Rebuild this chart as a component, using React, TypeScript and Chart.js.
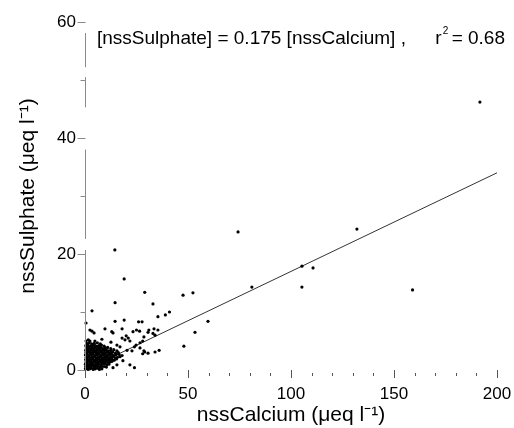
import React, { useEffect, useRef } from "react";
import { Chart, registerables } from "chart.js";

Chart.register(...registerables);

// nssCalcium (x) vs nssSulphate (y), µeq/l — scattered samples
const outlierPoints: [number, number][] = [
  [191.7, 46.2], [132, 24.3], [74.3, 23.8], [14.5, 20.7], [105.3, 17.9], [110.7, 17.6],
  [19, 15.7], [81, 14.3], [105.3, 14.3], [159, 13.8], [29, 13.4], [47.6, 12.9], [52.4, 13.3],
  [14.6, 11.6], [33, 11.4], [3.4, 10.2], [41, 10.0], [39, 9.5], [35.4, 9.2], [59.7, 8.4],
  [53.4, 6.5], [48, 4.1], [29, 3.1], [34, 3.1], [36, 3.4], [0.5, 8.1], [14.6, 8.4], [19, 8.6],
  [26, 8.3], [27.7, 8.3], [2.4, 6.9], [3.4, 6.7], [4.4, 6.4], [9.7, 7.1], [13, 6.6], [18, 7.1],
  [25, 6.9], [26.5, 6.7], [31, 6.9], [33.5, 7.1], [35.4, 6.9], [33, 6.3], [30.6, 6.5], [20, 5.9],
  [21, 5.5], [24, 4.0], [34, 6.0], [28.6, 5.7], [28, 5.0], [26.7, 4.7], [2.4, 5.0], [8.2, 5.3],
  [12.6, 4.8], [18, 5.5], [19.4, 5.2], [21.8, 5.0], [24.8, 4.3], [26.7, 3.8], [28.6, 3.3],
  [30.6, 2.9], [28, 2.8], [20.4, 3.4], [22.8, 3.3], [15.5, 4.3], [17, 4.0], [18.4, 1.6],
  [21.8, 0.9], [24, 0.4], [15.5, 0.9], [13.6, 0.4], [23.3, 6.6], [13.6, 6.4],
];

// dense cloud of low-concentration samples near the origin
const clusterPoints: [number, number][] = [
  [0.2, 0.2], [0.8, 0.3], [1.5, 0.1], [2.3, 0.2], [3.1, 0.3], [4.0, 0.1], [5.0, 0.2], [6.1, 0.3], [7.0, 0.1], [8.2, 0.2],
  [0.3, 0.6], [1.0, 0.7], [1.8, 0.5], [2.6, 0.6], [3.5, 0.7], [4.4, 0.5], [5.3, 0.6], [6.2, 0.7], [7.2, 0.5], [8.1, 0.6], [9.3, 0.6], [10.4, 0.5],
  [0.2, 1.0], [1.1, 1.1], [2.0, 0.9], [2.9, 1.0], [3.8, 1.1], [4.7, 0.9], [5.7, 1.0], [6.6, 1.1], [7.6, 0.9], [8.6, 1.0], [9.6, 1.1], [10.5, 0.9], [11.6, 1.0],
  [0.5, 1.4], [1.4, 1.5], [2.4, 1.3], [3.3, 1.4], [4.2, 1.5], [5.2, 1.3], [6.1, 1.4], [7.1, 1.5], [8.0, 1.3], [9.0, 1.4], [10.0, 1.5], [11.0, 1.3], [12.2, 1.4], [13.1, 1.5],
  [0.3, 1.8], [1.2, 1.9], [2.1, 1.7], [3.0, 1.8], [4.0, 1.9], [5.0, 1.7], [6.0, 1.8], [7.0, 1.9], [8.0, 1.7], [9.0, 1.8], [10.0, 1.9], [11.0, 1.7], [12.0, 1.8], [13.0, 1.9], [14.2, 1.7], [15.3, 1.9],
  [0.6, 2.2], [1.5, 2.3], [2.5, 2.1], [3.4, 2.2], [4.4, 2.3], [5.4, 2.1], [6.4, 2.2], [7.4, 2.3], [8.4, 2.1], [9.4, 2.2], [10.4, 2.3], [11.4, 2.1], [12.4, 2.2], [13.4, 2.3], [14.6, 2.1], [15.8, 2.2], [17.0, 2.3],
  [0.2, 2.6], [1.1, 2.7], [2.0, 2.5], [3.0, 2.6], [4.0, 2.7], [5.0, 2.5], [6.0, 2.6], [7.0, 2.7], [8.0, 2.5], [9.0, 2.6], [10.0, 2.7], [11.0, 2.5], [12.0, 2.6], [13.0, 2.7], [14.0, 2.5], [15.0, 2.6], [16.5, 2.7], [18.0, 2.5],
  [0.5, 3.0], [1.5, 3.1], [2.5, 2.9], [3.5, 3.0], [4.5, 3.1], [5.5, 2.9], [6.5, 3.0], [7.5, 3.1], [8.5, 2.9], [9.5, 3.0], [10.5, 3.1], [11.5, 2.9], [12.5, 3.0], [13.5, 3.1], [14.8, 2.9], [16.2, 3.0],
  [0.3, 3.4], [1.3, 3.5], [2.3, 3.3], [3.3, 3.4], [4.3, 3.5], [5.3, 3.3], [6.3, 3.4], [7.3, 3.5], [8.3, 3.3], [9.3, 3.4], [10.3, 3.5], [11.4, 3.3], [12.6, 3.4], [14.0, 3.5], [15.5, 3.3],
  [0.6, 3.8], [1.6, 3.9], [2.6, 3.7], [3.6, 3.8], [4.6, 3.9], [5.6, 3.7], [6.6, 3.8], [7.6, 3.9], [8.6, 3.7], [9.8, 3.8], [11.0, 3.9], [12.5, 3.7],
  [0.4, 4.2], [1.4, 4.3], [2.5, 4.1], [3.5, 4.2], [4.6, 4.3], [5.7, 4.1], [6.8, 4.2], [8.0, 4.3], [9.3, 4.1],
  [0.8, 4.6], [2.0, 4.7], [3.2, 4.5], [4.5, 4.6], [6.0, 4.7], [7.4, 4.5],
  [0.5, 5.0], [1.6, 5.2], [4.8, 5.0],
];

// regression line [nssSulphate] = 0.175 [nssCalcium]
const fitX = [0, 200];
const fitY = [0, 34];

const xTickValues = [0, 50, 100, 150, 200];
const yTickValues = [0, 20, 40, 60];

// visible pieces of the (broken) y axis line, in y-data units
const yAxisPieces: [number, number][] = [[58.1, 52.2], [50.5, 45.3], [38, 22.6], [20.7, 0]];

const FONT = "'Liberation Sans', Arial, Helvetica, sans-serif";

const axisMarks = {
  id: "axisMarks",
  afterDraw(chart: any) {
    const { ctx, chartArea, scales } = chart;
    const x = scales.x;
    const y = scales.y;
    ctx.save();
    ctx.lineWidth = 1;
    ctx.strokeStyle = "#8a8a8a";
    const ax = Math.round(x.getPixelForValue(0)) + 0.5;
    ctx.beginPath();
    for (const [a, b] of yAxisPieces) {
      ctx.moveTo(ax, y.getPixelForValue(a));
      ctx.lineTo(ax, y.getPixelForValue(b));
    }
    for (const t of y.ticks) {
      const py = Math.round(y.getPixelForValue(t.value)) + 0.5;
      const major = yTickValues.includes(t.value);
      ctx.moveTo(ax - (major ? 8 : 5), py);
      ctx.lineTo(ax, py);
    }
    ctx.stroke();
    ctx.strokeStyle = "#555";
    ctx.beginPath();
    const base = chartArea.bottom;
    for (const t of x.ticks) {
      const px = Math.round(x.getPixelForValue(t.value)) + 0.5;
      const major = xTickValues.includes(t.value);
      ctx.moveTo(px, base + (major ? 0 : 3));
      ctx.lineTo(px, base + (major ? 8 : 6));
    }
    ctx.stroke();

    // equation annotation
    ctx.fillStyle = "#000";
    ctx.font = `19px ${FONT}`;
    ctx.textBaseline = "alphabetic";
    const tx = chartArea.left + 12;
    const ty = chartArea.top + 22;
    const part1 = "[nssSulphate] = 0.175 [nssCalcium] ,";
    ctx.fillText(part1, tx, ty);
    const rest = "= 0.68";
    const restW = ctx.measureText(rest).width;
    const rw = ctx.measureText("r").width;
    const endX = chartArea.right + 8;
    const restX = endX - restW;
    const rx = restX - rw - 10;
    ctx.fillText(rest, restX, ty);
    ctx.fillText("r", rx, ty);
    ctx.font = `10px ${FONT}`;
    ctx.fillText("2", rx + rw + 1, ty - 10);
    ctx.restore();
  },
};

export default function App() {
  const ref = useRef<HTMLCanvasElement | null>(null);
  useEffect(() => {
    if (!ref.current) return;
    const chart = new Chart(ref.current, {
      type: "scatter",
      data: {
        datasets: [
          {
            data: clusterPoints.concat(outlierPoints).map(([a, b]) => ({ x: a, y: b })),
            pointRadius: 1.6,
            pointBackgroundColor: "#000",
            pointBorderWidth: 0,
            clip: false as any,
          },
          {
            data: fitX.map((v, i) => ({ x: v, y: fitY[i] })),
            showLine: true,
            pointRadius: 0,
            borderColor: "#333",
            borderWidth: 1,
            clip: false as any,
          },
        ],
      },
      options: {
        responsive: false,
        animation: false,
        layout: { padding: { left: 0, right: 17, top: 22, bottom: 0 } },
        plugins: { legend: { display: false }, tooltip: { enabled: false } },
        scales: {
          x: {
            type: "linear",
            min: 0,
            max: 200,
            border: { display: false },
            grid: { display: false, drawTicks: false },
            ticks: {
              stepSize: 10,
              autoSkip: false,
              maxRotation: 0,
              padding: 14,
              color: "#000",
              font: { family: FONT, size: 17 },
              callback: (v: any) => (xTickValues.includes(v) ? String(v) : ""),
            },
            title: {
              display: true,
              text: "nssCalcium (\u03BCeq l\u207B\u00B9)",
              color: "#000",
              font: { family: FONT, size: 21 },
              padding: { top: 0, bottom: 0 },
            },
            afterFit: (s: any) => {
              s.height = 58;
              s.paddingLeft = 0;
              s.paddingRight = 0;
            },
          },
          y: {
            type: "linear",
            min: 0,
            max: 60,
            border: { display: false },
            grid: { display: false, drawTicks: false },
            ticks: {
              stepSize: 10,
              autoSkip: false,
              padding: 9,
              color: "#000",
              font: { family: FONT, size: 17 },
              callback: (v: any) => (yTickValues.includes(v) ? String(v) : ""),
            },
            title: {
              display: true,
              text: "nssSulphate (\u03BCeq l\u207B\u00B9)",
              color: "#000",
              font: { family: FONT, size: 21 },
              padding: { top: 16, bottom: 0 },
            },
            afterFit: (s: any) => {
              s.width = 85;
              s.paddingTop = 0;
              s.paddingBottom = 0;
            },
          },
        },
      },
      plugins: [axisMarks],
    });
    return () => chart.destroy();
  }, []);
  return (
    <div style={{ position: "absolute", left: 0, top: 0, width: 514, height: 428, background: "#fff" }}>
      <canvas ref={ref} width={514} height={428} />
    </div>
  );
}
